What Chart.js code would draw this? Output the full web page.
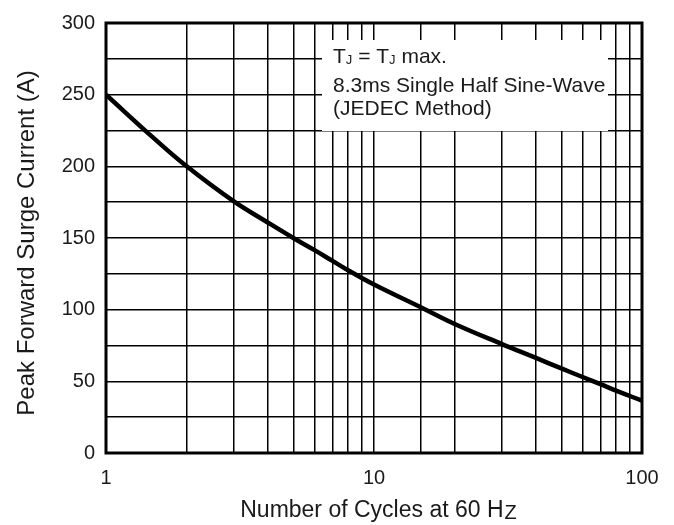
<!DOCTYPE html>
<html>
<head>
<meta charset="utf-8">
<script src="https://cdn.jsdelivr.net/npm/chart.js@4.4.1/dist/chart.umd.min.js"></script>
<style>
  html, body { margin: 0; padding: 0; background: #fff; }
  canvas { display: block; }
</style>
</head>
<body>
<canvas id="surge" width="674" height="525"></canvas>
<script>
// values
var cycles = [1, 1.5, 2, 3, 4, 5, 6, 7, 8, 10, 15, 20, 30, 40, 50, 60, 70, 80, 100];
var surgeCurrent = [250, 220, 200, 175.5, 161, 150, 141.5, 134, 127.5, 117.5, 101.5, 90, 76, 66.5, 59, 53, 48, 43.5, 36.5];
var xTickLabels = [1, 10, 100];
var yTickLabels = [0, 50, 100, 150, 200, 250, 300];

var family = '"Liberation Sans", Arial, sans-serif';
var textColor = "#1a1a1a";

// draws the frame, the note box and the axis titles (with subscripts)
var decorations = {
  id: "decorations",
  afterDraw: function(chart) {
    var ctx = chart.ctx;
    var area = chart.chartArea;
    ctx.save();

    // note box
    ctx.fillStyle = "#fff";
    ctx.fillRect(area.left + 216, 40, 286, 91);

    ctx.fillStyle = textColor;
    ctx.textBaseline = "alphabetic";
    ctx.textAlign = "left";
    var x = area.left + 227;
    ctx.font = "21px " + family;
    ctx.fillText("T", x, 63);
    x += ctx.measureText("T").width;
    ctx.font = "13px " + family;
    ctx.fillText("J", x, 64);
    x += ctx.measureText("J").width;
    ctx.font = "21px " + family;
    ctx.fillText(" = T", x, 63);
    x += ctx.measureText(" = T").width;
    ctx.font = "13px " + family;
    ctx.fillText("J", x, 64);
    x += ctx.measureText("J").width;
    ctx.font = "21px " + family;
    ctx.fillText(" max.", x, 63);
    ctx.fillText("8.3ms Single Half Sine-Wave", area.left + 227, 92);
    ctx.fillText("(JEDEC Method)", area.left + 227, 115);

    // frame
    ctx.strokeStyle = "#000";
    ctx.lineWidth = 3;
    ctx.strokeRect(area.left, area.top, area.right - area.left, area.bottom - area.top);

    // x title
    ctx.font = "23px " + family;
    var main = "Number of Cycles at 60 H";
    var w1 = ctx.measureText(main).width;
    ctx.font = "20px " + family;
    var w2 = ctx.measureText("Z").width;
    var cx = (area.left + area.right) / 2 + 4;
    var sx = cx - (w1 + w2) / 2;
    ctx.font = "23px " + family;
    ctx.fillText(main, sx, 517);
    ctx.font = "20px " + family;
    ctx.fillText("Z", sx + w1 + 1, 519);

    // y title
    ctx.translate(34, (area.top + area.bottom) / 2 + 5);
    ctx.rotate(-Math.PI / 2);
    ctx.textAlign = "center";
    ctx.font = "24px " + family;
    ctx.fillText("Peak Forward Surge Current (A)", 0, 0);

    ctx.restore();
  }
};

var ctx1 = document.getElementById("surge").getContext("2d");

var chart = new Chart(ctx1, {
  type: "line",
  data: {
    datasets: [
      {
        data: cycles.map(function(c, i) { return { x: c, y: surgeCurrent[i] }; }),
        borderColor: "#000",
        borderWidth: 4.5,
        pointRadius: 0,
        fill: false,
        tension: 0.4
      }
    ]
  },
  options: {
    responsive: false,
    animation: false,
    devicePixelRatio: 1,
    layout: { padding: { top: 17, right: 32, left: 0, bottom: 0 } },
    plugins: {
      legend: { display: false },
      tooltip: { enabled: false }
    },
    scales: {
      x: {
        type: "logarithmic",
        min: 1,
        max: 100,
        grid: { color: "#000", lineWidth: 1.5, drawTicks: false },
        border: { display: false },
        ticks: {
          autoSkip: false,
          maxRotation: 0,
          padding: 13,
          color: textColor,
          font: { size: 20, family: family },
          callback: function(v) {
            return xTickLabels.indexOf(v) >= 0 ? String(v) : "";
          }
        },
        afterFit: function(s) { s.height = 72; }
      },
      y: {
        min: 0,
        max: 300,
        grid: { color: "#000", lineWidth: 1.5, drawTicks: false },
        border: { display: false },
        ticks: {
          stepSize: 25,
          autoSkip: false,
          padding: 11,
          color: textColor,
          font: { size: 20, family: family },
          callback: function(v) {
            return yTickLabels.indexOf(v) >= 0 ? String(v) : "";
          }
        },
        afterFit: function(s) { s.width = 106; }
      }
    }
  },
  plugins: [decorations]
});
</script>
</body>
</html>
